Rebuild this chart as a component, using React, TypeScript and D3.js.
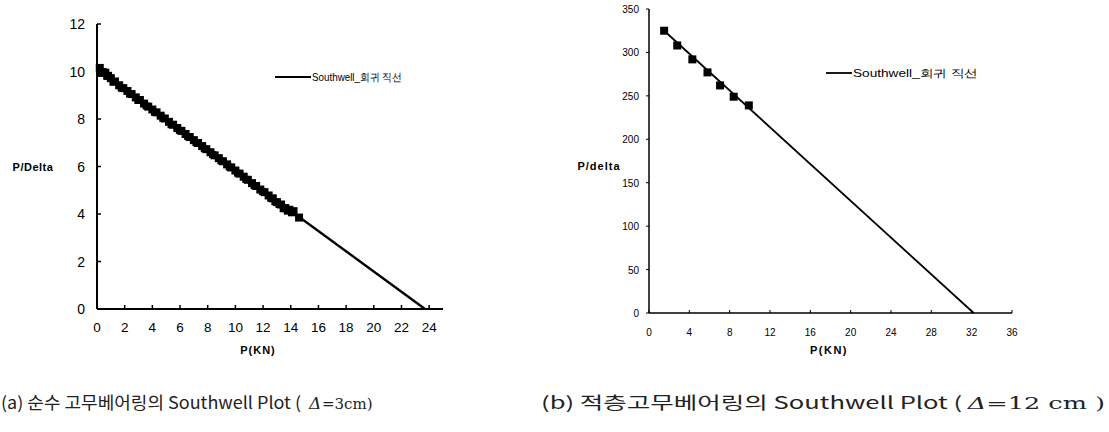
import React from 'react';
import * as d3 from 'd3';

// (a) pure rubber bearing, measured P vs P/Delta
const pA = [0.2, 0.4, 0.6, 0.8, 1.0, 1.3, 1.6, 1.9, 2.2, 2.5, 2.8, 3.1, 3.4, 3.7, 4.0, 4.3, 4.6, 4.9, 5.2, 5.5, 5.8, 6.1, 6.4, 6.7, 7.0, 7.3, 7.6, 7.9, 8.2, 8.5, 8.8, 9.1, 9.4, 9.7, 10.0, 10.3, 10.6, 10.9, 11.2, 11.5, 11.8, 12.1, 12.4, 12.7, 13.0, 13.3, 13.6, 13.9, 14.2, 14.6];
const ratioA = [10.15, 9.98, 9.95, 9.82, 9.72, 9.58, 9.42, 9.3, 9.18, 9.05, 8.91, 8.8, 8.65, 8.52, 8.4, 8.28, 8.14, 8.02, 7.88, 7.76, 7.62, 7.5, 7.37, 7.24, 7.11, 6.99, 6.86, 6.73, 6.6, 6.47, 6.35, 6.22, 6.09, 5.96, 5.83, 5.7, 5.57, 5.44, 5.3, 5.18, 5.03, 4.92, 4.78, 4.66, 4.5, 4.4, 4.25, 4.18, 4.12, 3.85];
// second loading pass, slightly offset (gives the thick band)
const pA2 = [0.3, 0.7, 1.15, 1.75, 2.35, 2.95, 3.55, 4.15, 4.75, 5.35, 5.95, 6.55, 7.15, 7.75, 8.35, 8.95, 9.55, 10.15, 10.75, 11.35, 11.95, 12.55, 12.85, 13.15, 13.45, 13.75, 14.05];
const ratioA2 = [9.92, 9.8, 9.55, 9.3, 9.05, 8.78, 8.55, 8.28, 8.03, 7.76, 7.52, 7.26, 7.0, 6.75, 6.5, 6.24, 5.98, 5.72, 5.46, 5.2, 4.95, 4.66, 4.52, 4.4, 4.22, 4.12, 4.05];
const fitA: [number, number][] = [[0, 10.1], [23.7, 0]];
const xTicksA = [0, 2, 4, 6, 8, 10, 12, 14, 16, 18, 20, 22, 24];
const yTicksA = [0, 2, 4, 6, 8, 10, 12];

// (b) laminated rubber bearing
const pB = [1.5, 2.8, 4.3, 5.8, 7.05, 8.4, 9.9];
const ratioB = [325, 308, 292, 277, 262, 249, 239];
const fitB: [number, number][] = [[1.5, 325], [32.2, 0]];
const xTicksB = [0, 4, 8, 12, 16, 20, 24, 28, 32, 36];
const yTicksB = [0, 50, 100, 150, 200, 250, 300, 350];

const legendText = 'Southwell_회귀 직선';
const captionA = '(a) 순수 고무베어링의 Southwell Plot (';
const captionB = '(b) 적층고무베어링의 Southwell Plot ( ';

const SANS = '"Liberation Sans", Arial, sans-serif';
const KR = '"Noto Sans CJK KR", sans-serif';
const SERIF = '"DejaVu Serif", serif';

export default function App() {
  // left chart scales
  const xA = d3.scaleLinear().domain([0, 25]).range([97, 443]);
  const yA = d3.scaleLinear().domain([0, 12]).range([309, 24]);
  // right chart scales
  const xB = d3.scaleLinear().domain([0, 36]).range([649, 1012]);
  const yB = d3.scaleLinear().domain([0, 350]).range([313, 9]);

  const lineA = d3.line<[number, number]>().x(d => xA(d[0])).y(d => yA(d[1]));
  const lineB = d3.line<[number, number]>().x(d => xB(d[0])).y(d => yB(d[1]));

  return (
    <svg width={1109} height={432} style={{ position: 'absolute', left: 0, top: 0, background: '#fff' }}>
      {/* ---------- chart (a) ---------- */}
      <g>
        <line x1={xA(0)} x2={xA(0)} y1={yA(0)} y2={yA(12)} stroke="#000" strokeWidth={2} />
        <line x1={xA(0)} x2={xA(25)} y1={yA(0)} y2={yA(0)} stroke="#000" strokeWidth={2} />
        {yTicksA.map(t => (
          <g key={t}>
            <line x1={xA(0)} x2={xA(0) + 4} y1={yA(t)} y2={yA(t)} stroke="#000" strokeWidth={1.5} />
            <text x={xA(0) - 12} y={yA(t) + 5} textAnchor="end" fontFamily={SANS} fontSize={14}>{t}</text>
          </g>
        ))}
        {xTicksA.map(t => (
          <g key={t}>
            <line x1={xA(t)} x2={xA(t)} y1={yA(0)} y2={yA(0) - 4} stroke="#000" strokeWidth={1.5} />
            <text x={xA(t)} y={yA(0) + 23} textAnchor="middle" fontFamily={SANS} fontSize={13.5}>{t}</text>
          </g>
        ))}
        <path d={lineA(fitA) || ''} stroke="#000" strokeWidth={2.4} fill="none" />
        {pA.map((p, i) => (
          <rect key={'a' + i} x={xA(p) - 4} y={yA(ratioA[i]) - 4} width={8} height={8} fill="#000" />
        ))}
        {pA2.map((p, i) => (
          <rect key={'b' + i} x={xA(p) - 3.5} y={yA(ratioA2[i]) - 3.5} width={7} height={7} fill="#000" />
        ))}
        <text x={33} y={171} textAnchor="middle" fontFamily={SANS} fontSize={11} fontWeight="bold" letterSpacing={0.5}>P/Delta</text>
        <text x={258} y={354} textAnchor="middle" fontFamily={SANS} fontSize={11} fontWeight="bold" letterSpacing={1}>P(KN)</text>
        <line x1={275} x2={311} y1={77} y2={77} stroke="#000" strokeWidth={2.2} />
        <text x={312} y={81} fontFamily={SANS} fontSize={11} textLength={90} lengthAdjust="spacingAndGlyphs">{legendText}</text>
      </g>

      {/* ---------- chart (b) ---------- */}
      <g>
        <line x1={xB(0)} x2={xB(0)} y1={yB(0)} y2={yB(350)} stroke="#000" strokeWidth={1.5} />
        <line x1={xB(0)} x2={xB(36)} y1={yB(0)} y2={yB(0)} stroke="#000" strokeWidth={1.5} />
        {yTicksB.map(t => (
          <g key={t}>
            <line x1={xB(0) - 3} x2={xB(0)} y1={yB(t)} y2={yB(t)} stroke="#000" strokeWidth={1} />
            <text x={xB(0) - 10} y={yB(t) + 4} textAnchor="end" fontFamily={SANS} fontSize={10}>{t}</text>
          </g>
        ))}
        {xTicksB.map(t => (
          <g key={t}>
            <line x1={xB(t)} x2={xB(t)} y1={yB(0)} y2={yB(0) - 3} stroke="#000" strokeWidth={1} />
            <text x={xB(t)} y={yB(0) + 23} textAnchor="middle" fontFamily={SANS} fontSize={10}>{t}</text>
          </g>
        ))}
        <path d={lineB(fitB) || ''} stroke="#000" strokeWidth={1.8} fill="none" />
        {pB.map((p, i) => (
          <rect key={i} x={xB(p) - 4} y={yB(ratioB[i]) - 4} width={8} height={8} fill="#000" />
        ))}
        <text x={599} y={170} textAnchor="middle" fontFamily={SANS} fontSize={11} fontWeight="bold" letterSpacing={1}>P/delta</text>
        <text x={829} y={354} textAnchor="middle" fontFamily={SANS} fontSize={11} fontWeight="bold" letterSpacing={1.5}>P(KN)</text>
        <line x1={826} x2={852} y1={73} y2={73} stroke="#000" strokeWidth={1.8} />
        <text x={853} y={77} fontFamily={SANS} fontSize={11} textLength={125} lengthAdjust="spacingAndGlyphs">{legendText}</text>
      </g>

      {/* ---------- captions ---------- */}
      <g fill="#222" fontSize={17}>
        <text x={1} y={409} fontFamily={KR} textLength={300} lengthAdjust="spacingAndGlyphs">{captionA}</text>
        <text x={309} y={409} fontFamily={SERIF} fontStyle="italic">Δ</text>
        <text x={322} y={409} fontFamily={SERIF} fontSize={15}>=3cm)</text>

        <text x={541} y={409} fontFamily={KR} textLength={564} lengthAdjust="spacingAndGlyphs">
          {captionB}
          <tspan fontStyle="italic" fontFamily={SERIF}>Δ</tspan>
          <tspan fontFamily={SERIF}>=12 cm )</tspan>
        </text>
      </g>
    </svg>
  );
}
